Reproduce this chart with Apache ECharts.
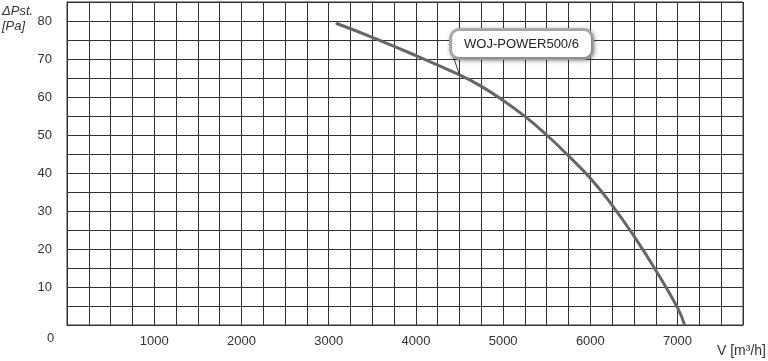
<!DOCTYPE html>
<html>
<head>
<meta charset="utf-8">
<script src="https://cdn.jsdelivr.net/npm/echarts@6/dist/echarts.min.js"></script>
<style>html,body{margin:0;padding:0;background:#fff}#c{width:768px;height:361px}</style>
</head>
<body>
<div id="c"></div>
<script>
// Flow rate V [m3/h]
var flow = [3085, 3500, 4000, 4500, 4750, 5000, 5250, 5500, 5750, 6000, 6250, 6500, 6750, 7000, 7080];
// Static pressure ΔPst [Pa]
var pressure = [79.4, 75.7, 70.9, 65.8, 62.8, 59.1, 54.9, 50.0, 44.5, 38.6, 31.5, 23.4, 14.4, 4.5, 0];
var seriesName = 'WOJ-POWER500/6';
var labelIndex = 3;
var xTickLabels = [1000, 2000, 3000, 4000, 5000, 6000, 7000];
var yTickLabels = [10, 20, 30, 40, 50, 60, 70, 80];
var yTitle = ['\u0394Pst.', '[Pa]'];
var xTitle = 'V [m\u00b3/h]';
var originLabel = '0';

var font = '"Liberation Sans", Arial, sans-serif';
var data = flow.map(function (v, i) {
  var item = { value: [v, pressure[i]] };
  if (i === labelIndex) {
    item.label = {
      show: true,
      formatter: seriesName,
      position: 'inside',
      color: '#222',
      fontFamily: font,
      fontSize: 13,
      backgroundColor: '#fff',
      borderColor: '#b0b0b0',
      borderWidth: 3,
      borderRadius: 7,
      padding: [7, 12, 6, 12],
      shadowColor: 'rgba(0,0,0,0.35)',
      shadowBlur: 4,
      shadowOffsetX: 1,
      shadowOffsetY: 1
    };
    item.labelLine = { show: true, lineStyle: { color: '#333', width: 1 } };
  }
  return item;
});

var chart = echarts.init(document.getElementById('c'), null, { renderer: 'canvas' });
chart.setOption({
  animation: false,
  grid: { left: 67, right: 25, top: 2, bottom: 36, show: true, borderColor: '#333', borderWidth: 1 },
  xAxis: {
    type: 'value', min: 0, max: 7750, interval: 250,
    axisLine: { show: true, lineStyle: { color: '#333', width: 1 } },
    axisTick: { show: false },
    splitLine: { show: true, lineStyle: { color: '#333', width: 1 } },
    axisLabel: {
      margin: 10, color: '#333', fontFamily: font, fontSize: 13,
      formatter: function (v) { return xTickLabels.indexOf(v) >= 0 ? String(v) : ''; }
    }
  },
  yAxis: {
    type: 'value', min: 0, max: 85, interval: 5,
    axisLine: { show: true, lineStyle: { color: '#333', width: 1 } },
    axisTick: { show: false },
    splitLine: { show: true, lineStyle: { color: '#333', width: 1 } },
    axisLabel: {
      margin: 15, color: '#333', fontFamily: font, fontSize: 13, padding: [5, 0, 0, 0],
      formatter: function (v) { return yTickLabels.indexOf(v) >= 0 ? String(v) : ''; }
    }
  },
  graphic: [
    { type: 'text', left: 2, top: 4, style: { text: yTitle.join('\n'), font: 'italic 13px ' + font, fill: '#333', lineHeight: 15 } },
    { type: 'text', right: 2, top: 344, style: { text: xTitle, font: '14px ' + font, fill: '#333' } },
    { type: 'text', left: 47, top: 332, style: { text: originLabel, font: '13px ' + font, fill: '#333' } }
  ],
  series: [{
    type: 'line',
    name: seriesName,
    data: data,
    smooth: 0.5,
    symbol: 'circle',
    symbolSize: 1,
    showSymbol: true,
    itemStyle: { color: '#666' },
    lineStyle: { color: '#666', width: 3 },
    labelLayout: { dx: 62, dy: -31 },
    z: 5
  }]
});
</script>
</body>
</html>
